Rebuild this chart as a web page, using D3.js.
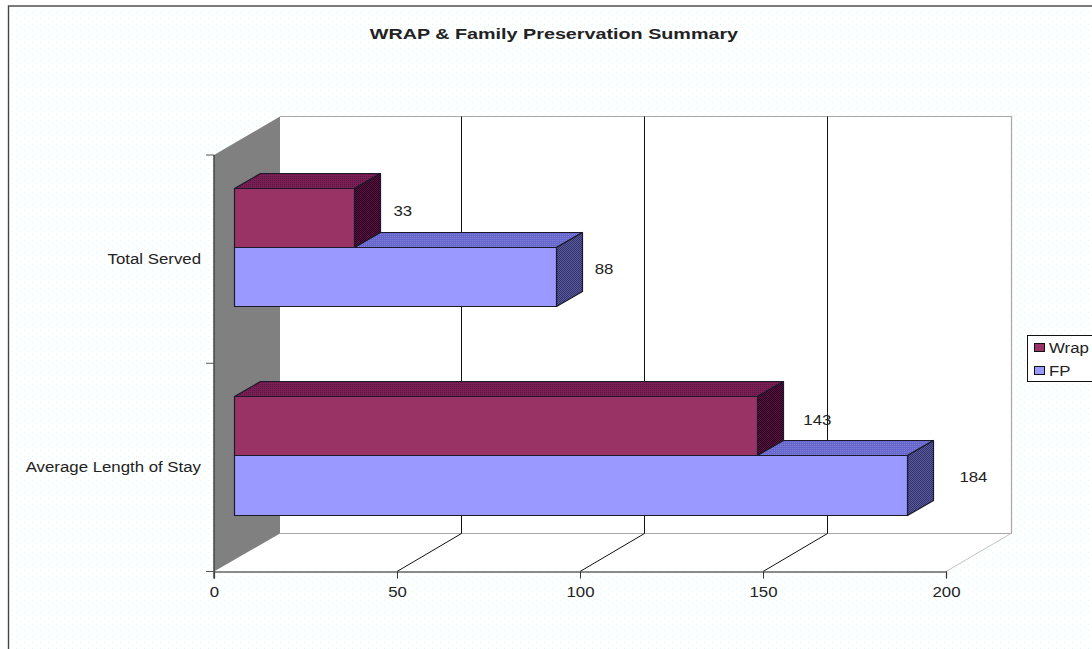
<!DOCTYPE html>
<html><head><meta charset="utf-8">
<script src="https://cdnjs.cloudflare.com/ajax/libs/d3/7.8.5/d3.min.js"></script>
<style>html,body{margin:0;padding:0;background:#fff;overflow:hidden}svg{display:block}
text{font-family:"Liberation Sans",Arial,sans-serif;fill:#222}</style>
</head><body><svg id="c" width="1092" height="649"></svg>
<script>
const title = "WRAP & Family Preservation Summary";
const categories = ["Total Served", "Average Length of Stay"];
const seriesNames = ["Wrap", "FP"];
const wrapValues = [33, 143];
const fpValues = [88, 184];
const xTicks = [0, 50, 100, 150, 200];

const svg = d3.select("#c");
const x = d3.scaleLinear().domain([0, 200]).range([214, 946]);
const yTop = 155, yBot = 571.5;
const yBand = d3.scaleBand().domain(categories).range([yTop, yBot]);
const depth = {dx: 66, dy: -38.5};
const inset = {dx: 20, dy: -11.5};
const barDepth = {dx: 26, dy: -15};
const barH = 59.3;
const snap = v => Math.round(v) + 0.5;

// widen a text to the reference's stretched glyphs
function stretch(sel, factor) {
  sel.each(function () {
    const len = this.getComputedTextLength();
    d3.select(this).attr("textLength", len * factor).attr("lengthAdjust", "spacingAndGlyphs");
  });
  return sel;
}

const defs = svg.append("defs");
function pat(id, w, h, bg, cells, col) {
  const p = defs.append("pattern").attr("id", id).attr("width", w).attr("height", h)
    .attr("patternUnits", "userSpaceOnUse");
  p.append("rect").attr("width", w).attr("height", h).attr("fill", bg);
  cells.forEach(c => p.append("rect").attr("x", c[0]).attr("y", c[1]).attr("width", 1).attr("height", 1).attr("fill", col));
}
pat("bgDots", 8, 6, "#feffff", [[0,0],[4,3]], "#dcf9f9");
pat("wrapTop", 2, 2, "#7a1f55", [[0,0]], "#5a1540");
pat("wrapSide", 2, 2, "#5a0f3f", [[0,0],[1,1]], "#2a0020");
pat("fpTop", 2, 2, "#6666cc", [[0,0]], "#8080d8");
pat("fpSide", 2, 2, "#5a5aa0", [[0,0],[1,1]], "#33336a");

svg.append("rect").attr("width", 1092).attr("height", 649).attr("fill", "#fff");
svg.append("rect").attr("x", 8.5).attr("y", 6).attr("width", 1090).attr("height", 660)
  .attr("fill", "url(#bgDots)").attr("stroke", "#444").attr("stroke-width", 1.4);

const poly = pts => pts.map(p => p.join(",")).join(" ");
const backY0 = Math.floor(yTop + depth.dy) + 0.5, backY1 = Math.floor(yBot + depth.dy) + 0.5;

// walls and floor
svg.append("polygon").attr("points", poly([
  [x(0)+depth.dx, backY0], [x(200)+depth.dx, backY0],
  [x(200)+depth.dx, backY1], [x(200), yBot], [x(0), yBot], [x(0)+depth.dx, backY1]
])).attr("fill", "#fff");
svg.append("polyline").attr("points", poly([
  [x(0)+depth.dx, backY0], [snap(x(200)+depth.dx-1), backY0],
  [snap(x(200)+depth.dx-1), backY1], [x(0)+depth.dx, backY1]
])).attr("fill", "none").attr("stroke", "#a8a8a8").attr("stroke-width", 1.2);
svg.append("line").attr("x1", x(200)).attr("y1", yBot).attr("x2", x(200)+depth.dx-1).attr("y2", backY1)
  .attr("stroke", "#c4c4c4");
svg.append("polygon").attr("points", poly([
  [x(0), yTop], [x(0)+depth.dx, backY0], [x(0)+depth.dx, backY1], [x(0), yBot]
])).attr("fill", "#808080");

// gridlines on back wall and floor
xTicks.slice(1, -1).forEach(t => {
  const gx = snap(x(t) + depth.dx - 2);
  svg.append("polyline").attr("points", poly([
    [gx, backY0], [gx, backY1], [x(t), yBot]
  ])).attr("fill", "none").attr("stroke", "#111").attr("stroke-width", 1);
});

// axes
const xAxis = d3.axisBottom(x).tickValues(xTicks).tickSize(7).tickPadding(9);
const xg = svg.append("g").attr("transform", `translate(0,${yBot})`).call(xAxis);
xg.select(".domain").attr("stroke", "#666").attr("stroke-width", 1.3);
xg.selectAll("line").attr("stroke", "#333");
stretch(xg.selectAll("text").attr("font-size", 14).attr("fill", "#222"), 1.2);

const yg = svg.append("g");
yg.append("line").attr("x1", x(0)).attr("x2", x(0)).attr("y1", yTop).attr("y2", yBot+7).attr("stroke", "#444").attr("stroke-width", 1.5);
[yTop, ...categories.map(c => yBand(c) + yBand.bandwidth())].forEach(v => {
  yg.append("line").attr("x1", x(0)-8).attr("x2", x(0)).attr("y1", v).attr("y2", v).attr("stroke", "#555");
});
categories.forEach(c => {
  const t = yg.append("text").attr("y", yBand(c) + yBand.bandwidth()/2 + 1)
    .attr("dominant-baseline", "middle").attr("font-size", 14).text(c);
  const w = t.node().getComputedTextLength() * 1.2;
  t.attr("x", 201 - w).attr("textLength", w).attr("lengthAdjust", "spacingAndGlyphs");
});

// bars
const styles = {
  Wrap: {front: "#993366", top: "url(#wrapTop)", side: "url(#wrapSide)", values: wrapValues, row: 0},
  FP: {front: "#9999ff", top: "url(#fpTop)", side: "url(#fpSide)", values: fpValues, row: 1}
};
const stroke = "#1a1a2a";
function drawBar(name, i) {
  const s = styles[name];
  const cy = yBand(categories[i]) + yBand.bandwidth()/2 + inset.dy;
  const y0 = snap(cy - barH + s.row * barH - 0.5), y1 = snap(cy + s.row * barH - 0.5);
  const xa = snap(x(0) + inset.dx - 0.5), xb = snap(x(s.values[i]) + inset.dx - 0.5);
  const g = svg.append("g").attr("stroke", stroke).attr("stroke-width", 1.2).attr("stroke-linejoin", "round");
  g.append("polygon").attr("points", poly([[xa,y0],[xa+barDepth.dx,y0+barDepth.dy],[xb+barDepth.dx,y0+barDepth.dy],[xb,y0]])).attr("fill", s.top);
  g.append("polygon").attr("points", poly([[xb,y0],[xb+barDepth.dx,y0+barDepth.dy],[xb+barDepth.dx,y1+barDepth.dy],[xb,y1]])).attr("fill", s.side);
  g.append("rect").attr("x", xa).attr("y", y0).attr("width", xb-xa).attr("height", y1-y0).attr("fill", s.front);
}
categories.forEach((c, i) => { drawBar("FP", i); drawBar("Wrap", i); });

// value labels
const labelNudge = {Wrap: [[48, -5.5], [60, -5]], FP: [[48, -7], [66, -7]]};
seriesNames.forEach(n => {
  const s = styles[n];
  s.values.forEach((v, i) => {
    const cy = yBand(categories[i]) + yBand.bandwidth()/2 + inset.dy;
    const mid = cy - barH/2 + s.row * barH;
    stretch(svg.append("text").attr("x", x(v) + inset.dx + labelNudge[n][i][0]).attr("y", mid + labelNudge[n][i][1])
      .attr("text-anchor", "middle").attr("dominant-baseline", "middle")
      .attr("font-size", 14).text(v), 1.2);
  });
});

// title
stretch(svg.append("text").attr("x", 554).attr("y", 35.5).attr("text-anchor", "middle").attr("dominant-baseline", "middle")
  .attr("font-size", 14).attr("font-weight", "bold").attr("fill", "#111").text(title), 1.41);

// legend
const legend = svg.append("g");
legend.append("rect").attr("x", 1027.5).attr("y", 335.5).attr("width", 80).attr("height", 46)
  .attr("fill", "#fff").attr("stroke", "#111");
seriesNames.forEach((n, i) => {
  const ly = 348 + i * 23;
  legend.append("rect").attr("x", 1034.5).attr("y", ly-4.5).attr("width", 10).attr("height", 8)
    .attr("fill", styles[n].front).attr("stroke", "#111");
  stretch(legend.append("text").attr("x", 1049).attr("y", ly+1).attr("dominant-baseline", "middle")
    .attr("font-size", 14).text(n), 1.2);
});
</script></body></html>
